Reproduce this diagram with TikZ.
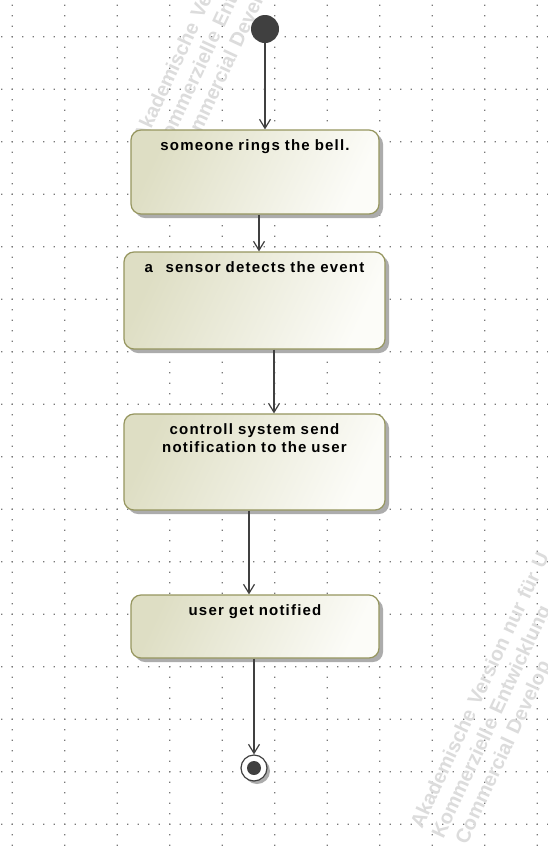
\documentclass[tikz,border=0pt]{standalone}
\usepackage{fontspec}
\setmainfont{Liberation Sans}
\newfontfamily\actfont[LetterSpace=8]{Liberation Sans}
\definecolor{gridgray}{RGB}{120,120,120}
\definecolor{watermark}{RGB}{220,220,220}
\definecolor{actborder}{RGB}{150,150,95}
\definecolor{actleft}{RGB}{222,222,196}
\definecolor{actright}{RGB}{252,252,248}
\definecolor{actshadow}{RGB}{172,172,172}
\definecolor{flow}{RGB}{64,64,64}
\usetikzlibrary{arrows.meta,shadows}

\begin{document}
\begin{tikzpicture}[x=1pt, y=-1pt,
    action/.style={draw=actborder, line width=1.2pt, rounded corners=10pt,
      left color=actleft, right color=actright, shading angle=65,
      drop shadow={shadow xshift=4pt, shadow yshift=-4pt, fill=actshadow, opacity=1},
      inner sep=0pt, align=center, text height=20pt,
      font=\actfont\bfseries\fontsize{15}{18.5}\selectfont},
    flow/.style={draw=flow, line width=1.2pt, -{Straight Barb[length=9pt, width=11pt]}},
    wmark/.style={text=watermark, rotate=65, anchor=base west, inner sep=0pt,
      text width=520pt, align=left, font=\bfseries\fontsize{20}{23.5}\selectfont}]
      \useasboundingbox (0,0) rectangle (547,852);
      \fill[white] (0,0) rectangle (547,852);

      % Grid
      \fill[gridgray] \foreach \j in {0,...,15} {\foreach \i in {0,...,52}
        {(1.75+10.5*\i-0.65, 36.75+52.5*\j-0.65) rectangle ++(1.3,1.3)}};
      \fill[gridgray] \foreach \k in {0,...,10} {\foreach \i in {0,...,80}
        {(12.25+52.5*\k-0.65, 5.25+10.5*\i-0.65) rectangle ++(1.3,1.3)}};

      % Watermark
      \begin{scope}
        \clip (0,0) rectangle (547,852);
        \foreach \wx/\wy in {145/143, 422/830}
          \node[wmark] (wm\wx) at (\wx,\wy)
            {Akademische Version nur für U\\Kommerzielle Entwicklung\\\hspace*{5pt}Commercial Develop};
      \end{scope}

      % States
      \node[circle, fill=flow, minimum size=28pt, inner sep=0pt] (start) at (265,29) {};
      \node[action, text width=248pt, text depth=64pt] (bell) at (255,172) {someone rings the bell.};
      \node[action, text width=261pt, text depth=77pt] (sensor) at (254.5,300.5) {a\ \ \,sensor detects the event};
      \node[action, text width=261pt, text depth=76pt] (notify) at (254.5,462) {controll system send\\notification to the user};
      \node[action, text width=248pt, text depth=43pt] (user) at (255,626.5) {user get notified};
      \node[circle, draw=flow, fill=white, line width=1.2pt, minimum size=26pt, inner sep=0pt,
        drop shadow={shadow xshift=3pt, shadow yshift=-3pt, fill=actshadow, opacity=1}] (final) at (254,768) {};
      \node[circle, fill=flow, minimum size=14pt, inner sep=0pt] (finalcore) at (final) {};

      % Transitions
      \draw[flow] (start) -- (start |- bell.north);
      \draw[flow] ([xshift=4pt]bell.south) -- ([xshift=4pt]bell.south |- sensor.north);
      \draw[flow] ([xshift=19.5pt]sensor.south) -- ([xshift=19.5pt]sensor.south |- notify.north);
      \draw[flow] ([xshift=-5.5pt]notify.south) -- ([xshift=-5.5pt]notify.south |- user.north);
      \draw[flow] (user.south -| final) -- (final);
    \end{tikzpicture}
\end{document}
